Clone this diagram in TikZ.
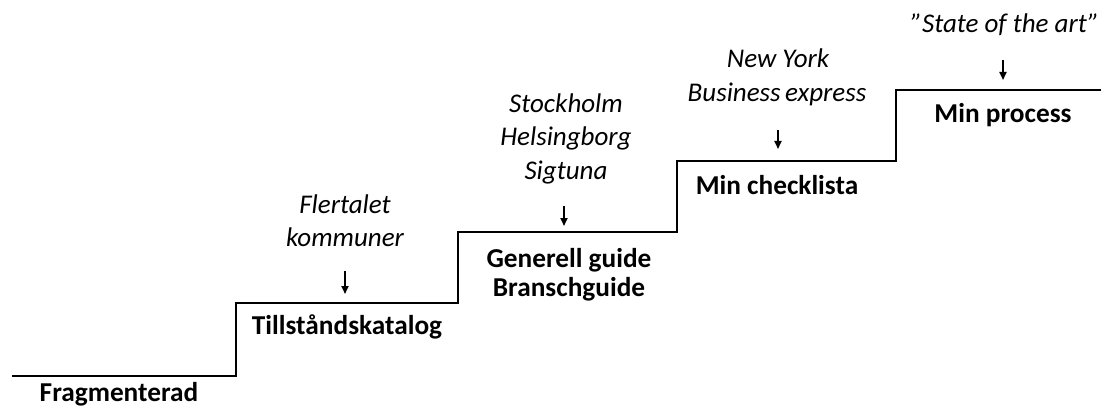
\documentclass[tikz,border=0pt]{standalone}
\usepackage{fontspec}
\setmainfont{Carlito}
\usetikzlibrary{arrows.meta}
\begin{document}
\begin{tikzpicture}[x=1pt,y=-1pt,
  stair/.style={line width=2.2pt, line join=miter},
  lvl/.style={font=\fontsize{27.3}{30}\selectfont\bfseries, anchor=base, inner sep=0pt},
  ex/.style={font=\fontsize{27}{30}\selectfont\itshape, anchor=base, inner sep=0pt},
  arr/.style={line width=1.8pt, -{Triangle[length=8pt,width=7pt]}}]
\useasboundingbox (0,0) rectangle (1101,409);
\coordinate (s0) at (12,376);
\coordinate (s1) at (236,376);
\coordinate (s2) at (236,303);
\coordinate (s3) at (458,303);
\coordinate (s4) at (458,232);
\coordinate (s5) at (677,232);
\coordinate (s6) at (677,161);
\coordinate (s7) at (896,161);
\coordinate (s8) at (896,90);
\coordinate (s9) at (1101,90);
\draw[stair] (s0) -- (s1) -- (s2) -- (s3) -- (s4) -- (s5) -- (s6) -- (s7) -- (s8) -- (s9);

\node[lvl] (l0) at (119,401) {Fragmenterad};
\node[lvl] (l1) at (347,334) {Tillståndskatalog};
\node[lvl] (l2a) at (569,267) {Generell guide};
\node[lvl] (l2b) at (569,296) {Branschguide};
\node[lvl] (l3) at (777,195) {Min checklista};
\node[lvl] (l4) at (1003,123) {Min process};

\node[ex] (e1a) at (345,214) {Flertalet};
\node[ex] (e1b) at (345,246) {kommuner};
\node[ex] (e2a) at (566,113) {Stockholm};
\node[ex] (e2b) at (566,146) {Helsingborg};
\node[ex] (e2c) at (566,179) {Sigtuna};
\node[ex] (e3a) at (778,68) {New York};
\node[ex] (e3b) at (777,102) {Business\,express};
\node[ex] (e4) at (1005,33) {”State of the art”};

\coordinate (a1s) at (345,271); \coordinate (a1e) at (345,294);
\coordinate (a2s) at (564,206); \coordinate (a2e) at (564,226);
\coordinate (a3s) at (778,130); \coordinate (a3e) at (778,149);
\coordinate (a4s) at (1003,60); \coordinate (a4e) at (1003,80);
\draw[arr] (a1s) -- (a1e);
\draw[arr] (a2s) -- (a2e);
\draw[arr] (a3s) -- (a3e);
\draw[arr] (a4s) -- (a4e);
\end{tikzpicture}
\end{document}
